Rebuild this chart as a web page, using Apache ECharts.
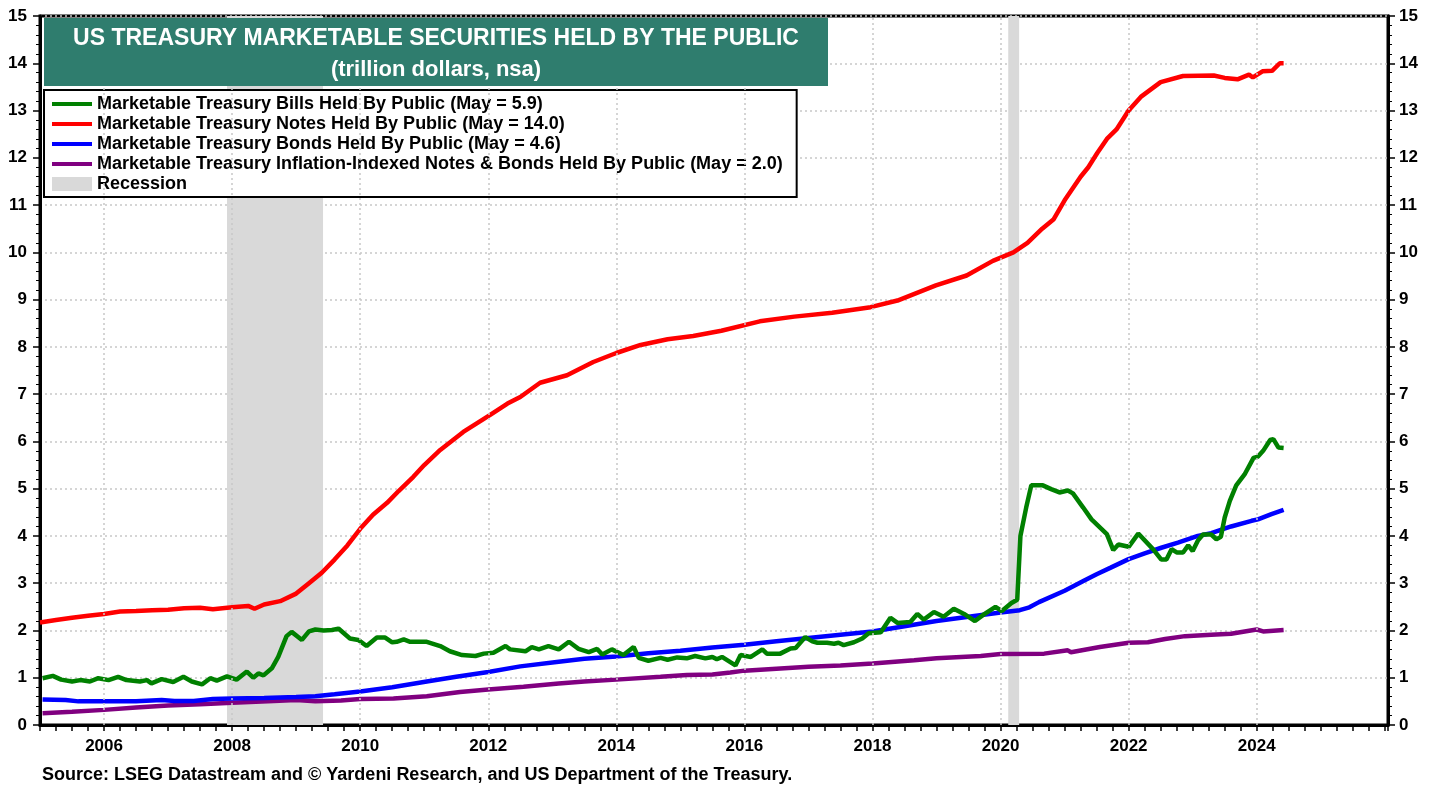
<!DOCTYPE html>
<html>
<head>
<meta charset="utf-8">
<script src="https://cdn.jsdelivr.net/npm/echarts@6/dist/echarts.min.js"></script>
<style>
  html, body { margin: 0; padding: 0; background: #fff; }
  #chart { width: 1439px; height: 789px; }
</style>
</head>
<body>
<div id="chart"></div>
<script>
// values, x = decimal year, y = trillion dollars
var billsYears = [2005.04,2005.2,2005.33,2005.5,2005.63,2005.78,2005.91,2006.07,2006.22,2006.35,2006.56,2006.67,2006.74,2006.9,2007.08,2007.24,2007.37,2007.53,2007.66,2007.76,2007.92,2008.07,2008.23,2008.33,2008.41,2008.49,2008.62,2008.72,2008.85,2008.93,2009.09,2009.2,2009.3,2009.43,2009.56,2009.66,2009.84,2009.97,2010.1,2010.26,2010.39,2010.5,2010.57,2010.68,2010.78,2011.04,2011.25,2011.4,2011.59,2011.8,2011.93,2012.08,2012.27,2012.34,2012.58,2012.68,2012.79,2012.94,2013.1,2013.26,2013.41,2013.57,2013.7,2013.78,2013.93,2014.11,2014.27,2014.35,2014.5,2014.69,2014.8,2014.95,2015.1,2015.23,2015.39,2015.5,2015.57,2015.65,2015.86,2015.94,2016.1,2016.28,2016.35,2016.56,2016.72,2016.8,2016.95,2017.06,2017.14,2017.29,2017.4,2017.47,2017.55,2017.71,2017.84,2017.94,2018.13,2018.28,2018.39,2018.59,2018.7,2018.8,2018.96,2019.11,2019.27,2019.43,2019.6,2019.74,2019.92,2020.02,2020.17,2020.26,2020.31,2020.4,2020.48,2020.66,2020.79,2020.92,2021.05,2021.13,2021.29,2021.42,2021.66,2021.76,2021.84,2022.0,2022.15,2022.38,2022.51,2022.59,2022.67,2022.75,2022.85,2022.93,2023.0,2023.08,2023.16,2023.29,2023.37,2023.44,2023.5,2023.58,2023.68,2023.81,2023.95,2024.02,2024.1,2024.21,2024.26,2024.34,2024.42];
var billsValues = [0.99,1.04,0.96,0.92,0.95,0.92,0.99,0.95,1.02,0.95,0.92,0.95,0.88,0.97,0.91,1.02,0.92,0.86,0.99,0.94,1.03,0.96,1.13,1.0,1.09,1.05,1.2,1.44,1.88,1.97,1.8,1.98,2.02,2.0,2.01,2.04,1.83,1.8,1.67,1.85,1.85,1.75,1.76,1.81,1.76,1.76,1.67,1.56,1.48,1.46,1.51,1.53,1.67,1.6,1.56,1.65,1.6,1.67,1.6,1.76,1.61,1.54,1.61,1.49,1.6,1.48,1.65,1.42,1.36,1.42,1.38,1.43,1.41,1.46,1.41,1.44,1.39,1.44,1.26,1.48,1.44,1.6,1.51,1.51,1.62,1.63,1.86,1.77,1.74,1.74,1.72,1.74,1.69,1.75,1.83,1.94,1.96,2.27,2.16,2.18,2.35,2.23,2.39,2.29,2.46,2.35,2.2,2.34,2.5,2.41,2.58,2.65,4.0,4.6,5.07,5.07,4.99,4.92,4.96,4.9,4.6,4.35,4.04,3.7,3.82,3.77,4.05,3.72,3.5,3.5,3.72,3.65,3.65,3.8,3.68,3.9,4.03,4.03,3.93,3.98,4.39,4.74,5.07,5.3,5.65,5.68,5.8,6.03,6.05,5.87,5.86];

var notesYears = [2005.0,2005.25,2005.5,2005.75,2006.0,2006.25,2006.5,2006.75,2007.0,2007.25,2007.5,2007.7,2008.0,2008.25,2008.35,2008.5,2008.75,2009.0,2009.2,2009.4,2009.6,2009.8,2010.0,2010.2,2010.42,2010.6,2010.83,2011.0,2011.25,2011.61,2012.03,2012.3,2012.5,2012.81,2013.23,2013.64,2014.0,2014.38,2014.8,2015.2,2015.64,2016.24,2016.78,2017.37,2017.97,2018.39,2018.99,2019.47,2019.88,2020.2,2020.42,2020.65,2020.83,2021.0,2021.25,2021.37,2021.51,2021.66,2021.81,2022.0,2022.2,2022.5,2022.85,2023.33,2023.5,2023.7,2023.88,2023.94,2024.09,2024.24,2024.36,2024.42];
var notesValues = [2.17,2.22,2.27,2.31,2.35,2.4,2.41,2.43,2.44,2.47,2.48,2.45,2.49,2.52,2.46,2.55,2.62,2.78,3.0,3.22,3.5,3.8,4.15,4.45,4.7,4.95,5.25,5.5,5.82,6.2,6.56,6.8,6.94,7.24,7.4,7.68,7.87,8.04,8.16,8.23,8.34,8.54,8.64,8.72,8.84,8.98,9.3,9.51,9.82,10.0,10.2,10.5,10.7,11.1,11.6,11.8,12.1,12.4,12.6,13.0,13.3,13.6,13.73,13.74,13.69,13.66,13.76,13.7,13.83,13.84,14.0,14.0];

var bondsYears = [2005.04,2005.4,2005.6,2006.0,2006.5,2006.9,2007.1,2007.4,2007.7,2008.0,2008.5,2009.0,2009.3,2009.6,2010.0,2010.5,2011.04,2011.5,2012.0,2012.5,2013.1,2013.5,2014.0,2014.5,2015.0,2015.5,2016.0,2016.5,2017.0,2017.5,2018.0,2018.5,2019.0,2019.5,2020.0,2020.3,2020.45,2020.6,2021.0,2021.3,2021.5,2021.72,2022.0,2022.25,2022.51,2022.77,2023.08,2023.29,2023.6,2023.92,2024.02,2024.23,2024.42];
var bondsValues = [0.54,0.53,0.5,0.5,0.5,0.53,0.51,0.51,0.55,0.56,0.57,0.59,0.61,0.65,0.71,0.8,0.92,1.02,1.12,1.24,1.34,1.4,1.45,1.52,1.57,1.64,1.7,1.77,1.84,1.91,1.98,2.09,2.2,2.29,2.38,2.43,2.49,2.6,2.84,3.05,3.19,3.33,3.51,3.63,3.75,3.86,4.0,4.06,4.2,4.32,4.35,4.46,4.55];

var tipsYears = [2005.04,2005.5,2006.0,2006.5,2007.0,2007.5,2008.0,2008.65,2009.0,2009.3,2009.7,2010.0,2010.52,2011.04,2011.56,2012.0,2012.55,2013.1,2013.5,2014.0,2014.69,2015.1,2015.5,2015.78,2016.0,2016.5,2017.0,2017.5,2018.0,2018.65,2019.0,2019.69,2020.0,2020.68,2021.05,2021.1,2021.55,2022.0,2022.3,2022.57,2022.88,2023.29,2023.6,2024.0,2024.1,2024.42];
var tipsValues = [0.25,0.28,0.32,0.37,0.41,0.44,0.47,0.51,0.53,0.5,0.52,0.55,0.56,0.61,0.7,0.75,0.81,0.88,0.92,0.96,1.02,1.06,1.07,1.11,1.15,1.19,1.23,1.26,1.3,1.37,1.41,1.46,1.5,1.51,1.58,1.54,1.65,1.74,1.75,1.82,1.88,1.91,1.93,2.02,1.98,2.01];

var recessionStarts = [2007.92, 2020.12];
var recessionEnds = [2009.42, 2020.29];

var xTickLabels = ['2006','2008','2010','2012','2014','2016','2018','2020','2022','2024'];

var seriesNames = [
  'Marketable Treasury Bills Held By Public (May = 5.9)',
  'Marketable Treasury Notes Held By Public (May = 14.0)',
  'Marketable Treasury Bonds Held By Public (May = 4.6)',
  'Marketable Treasury Inflation-Indexed Notes & Bonds Held By Public (May = 2.0)'
];
var seriesColors = ['#008000', '#ff0000', '#0000ff', '#800080'];

const FONT = 'Arial, "Liberation Sans", sans-serif';
const GRID_DOTS = { type: [2, 3], color: '#c8c8c8', width: 1.5 };

const zip = (xs, ys) => xs.map((x, i) => [x, ys[i]]);

const lineSeries = (name, color, xs, ys) => ({
  name: name,
  type: 'line',
  data: zip(xs, ys),
  symbol: 'none',
  showSymbol: false,
  silent: true,
  z: 3,
  itemStyle: { color: color },
  lineStyle: { color: color, width: 4.5 }
});

const yAxisBase = (pos) => ({
  type: 'value',
  position: pos,
  min: 0,
  max: 15,
  interval: 1,
  axisLine: { show: true, onZero: false, lineStyle: { color: '#000', width: 3 } },
  axisTick: { show: true, length: 7, lineStyle: { color: '#000', width: 1.5 } },
  minorTick: { show: true, splitNumber: 5, length: 4, lineStyle: { color: '#000', width: 1 } },
  axisLabel: { color: '#000', fontFamily: FONT, fontWeight: 'bold', fontSize: 17, margin: pos === 'left' ? 13 : 11 },
  splitLine: pos === 'left' ? { show: true, lineStyle: GRID_DOTS } : { show: false }
});

var chart = echarts.init(document.getElementById('chart'));

var option = {
  animation: false,
  backgroundColor: '#fff',
  grid: {
    left: 40, right: 51, top: 16, bottom: 64,
    show: true, borderColor: '#000', borderWidth: 3, backgroundColor: '#fff'
  },
  xAxis: {
    type: 'value',
    min: 2005,
    max: 2026.05,
    interval: 1,
    axisLine: { show: true, onZero: false, lineStyle: { color: '#000', width: 3 } },
    axisTick: { show: true, length: 6, lineStyle: { color: '#000', width: 1.5 } },
    minorTick: { show: true, splitNumber: 4, length: 6, lineStyle: { color: '#000', width: 1.5 } },
    axisLabel: {
      interval: 0,
      hideOverlap: false,
      color: '#000', fontFamily: FONT, fontWeight: 'bold', fontSize: 17, margin: 13,
      formatter: v => xTickLabels.indexOf(String(v)) >= 0 ? String(v) : ''
    },
    splitLine: { show: false }
  },
  yAxis: [yAxisBase('left'), yAxisBase('right')],
  legend: {
    orient: 'vertical',
    left: 44,
    top: 90,
    itemWidth: 40,
    itemHeight: 14,
    itemGap: 2,
    padding: [5, 14, 4, 6],
    backgroundColor: '#fff',
    borderColor: '#000',
    borderWidth: 2,
    selectedMode: false,
    itemStyle: { opacity: 0 },
    lineStyle: { width: 4 },
    textStyle: { color: '#000', fontFamily: FONT, fontWeight: 'bold', fontSize: 18, lineHeight: 18 },
    data: seriesNames.concat([{ name: 'Recession', icon: 'rect', itemStyle: { opacity: 1, color: '#d9d9d9' } }])
  },
  graphic: [
    { type: 'rect', left: 44, top: 18, z: 100, shape: { width: 784, height: 68 }, style: { fill: '#2f7d6e' } },
    { type: 'text', x: 436, y: 39, z: 101, style: { text: 'US TREASURY MARKETABLE SECURITIES HELD BY THE PUBLIC', fill: '#fff', font: 'bold 23px ' + FONT, textAlign: 'center', textVerticalAlign: 'middle' } },
    { type: 'text', x: 436, y: 70, z: 101, style: { text: '(trillion dollars, nsa)', fill: '#fff', font: 'bold 22px ' + FONT, textAlign: 'center', textVerticalAlign: 'middle' } },
    { type: 'text', x: 42, y: 775, z: 101, style: { text: 'Source: LSEG Datastream and \u00A9 Yardeni Research, and US Department of the Treasury.', fill: '#000', font: 'bold 18px ' + FONT, textVerticalAlign: 'middle' } }
  ],
  series: [
    {
      name: 'Recession',
      type: 'line',
      data: [],
      silent: true,
      z: 1,
      itemStyle: { color: '#d9d9d9' },
      lineStyle: { color: '#d9d9d9' },
      markArea: {
        silent: true,
        itemStyle: { color: '#d9d9d9' },
        data: recessionStarts.map((s, i) => [{ xAxis: s }, { xAxis: recessionEnds[i] }])
      }
    },
    {
      // vertical dotted grid at the labelled years
      type: 'line',
      data: [],
      silent: true,
      z: 2,
      markLine: {
        silent: true,
        symbol: ['none', 'none'],
        label: { show: false },
        lineStyle: GRID_DOTS,
        data: xTickLabels.map(y => ({ xAxis: Number(y) }))
      }
    },
    lineSeries(seriesNames[3], seriesColors[3], tipsYears, tipsValues),
    lineSeries(seriesNames[2], seriesColors[2], bondsYears, bondsValues),
    lineSeries(seriesNames[1], seriesColors[1], notesYears, notesValues),
    lineSeries(seriesNames[0], seriesColors[0], billsYears, billsValues)
  ]
};

chart.setOption(option);
</script>
</body>
</html>
